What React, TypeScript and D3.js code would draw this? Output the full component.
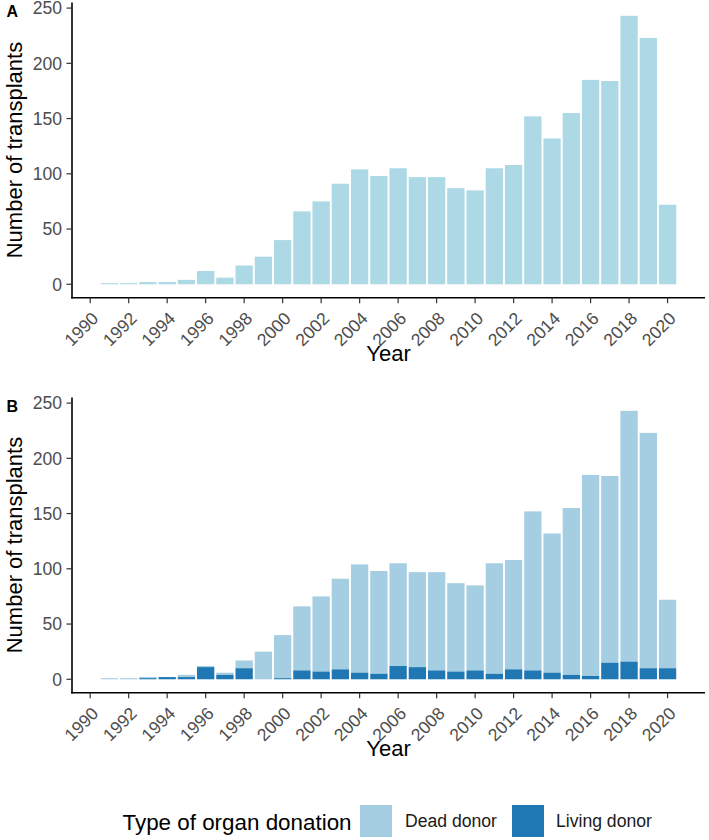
import React from "react";
import * as d3 from "d3";

const years = d3.range(1991, 2021);
const deadDonor = [1, 1, 1, 0, 2, 1, 2, 7, 25, 39, 58, 68, 82, 98, 93, 93, 86, 89, 80, 77, 100, 99, 144, 126, 151, 182, 169, 227, 213, 62];
const livingDonor = [0, 0, 1, 2, 2, 11, 4, 10, 0, 1, 8, 7, 9, 6, 5, 12, 11, 8, 7, 8, 5, 9, 8, 6, 4, 3, 15, 16, 10, 10];
const yTicks = [0, 50, 100, 150, 200, 250];
const xTicks = d3.range(1990, 2021, 2);
const legendLabels = ["Dead donor", "Living donor"];

const FONT = "'Liberation Sans', Arial, Helvetica, sans-serif";
const AXIS_X0 = 72;
const AXIS_X1 = 705;

const x = d3.scaleLinear().domain([1989.055, 2021.945]).range([AXIS_X0, AXIS_X1]);
const BAR_W = (x(1) - x(0)) * 0.9;

function Panel({ top, label, stacked }: { top: number; label: string; stacked: boolean }) {
  const y = d3.scaleLinear().domain([-12.15, 255.15]).range([top + 297.7, top + 2.4]);
  const bottom = top + 297.7;
  return (
    <g>
      {years.map((yr, i) => {
        const total = deadDonor[i] + livingDonor[i];
        const xl = x(yr) - BAR_W / 2;
        if (!stacked) {
          return <rect key={yr} x={xl} width={BAR_W} y={y(total)} height={y(0) - y(total)} fill="#ADD8E6" />;
        }
        return (
          <g key={yr}>
            <rect x={xl} width={BAR_W} y={y(total)} height={y(livingDonor[i]) - y(total)} fill="#A6CEE3" />
            <rect x={xl} width={BAR_W} y={y(livingDonor[i])} height={y(0) - y(livingDonor[i])} fill="#1F78B4" />
          </g>
        );
      })}
      <line x1={AXIS_X0} x2={AXIS_X0} y1={top + 2.4} y2={bottom + 0.8} stroke="#000" strokeWidth={1.6} />
      <line x1={AXIS_X0 - 0.8} x2={AXIS_X1} y1={bottom} y2={bottom} stroke="#000" strokeWidth={1.6} />
      {yTicks.map((t) => (
        <g key={t}>
          <line x1={AXIS_X0 - 5.5} x2={AXIS_X0} y1={y(t)} y2={y(t)} stroke="#333" strokeWidth={1.2} />
          <text x={AXIS_X0 - 10} y={y(t)} dy="0.36em" textAnchor="end" fontSize={17.6} fill="#4D4D4D" fontFamily={FONT}>
            {t}
          </text>
        </g>
      ))}
      {xTicks.map((t) => (
        <g key={t}>
          <line x1={x(t)} x2={x(t)} y1={bottom} y2={bottom + 5.5} stroke="#333" strokeWidth={1.2} />
          <text
            transform={`translate(${x(t) + 0.5},${bottom + 13}) rotate(-45)`}
            dy="0.71em"
            textAnchor="end"
            fontSize={17.6}
            fill="#4D4D4D"
            fontFamily={FONT}
          >
            {t}
          </text>
        </g>
      ))}
      <text
        transform={`translate(22,${(top + 2.4 + bottom) / 2}) rotate(-90)`}
        textAnchor="middle"
        fontSize={22}
        fill="#000"
        fontFamily={FONT}
      >
        Number of transplants
      </text>
      <text x={(AXIS_X0 + AXIS_X1) / 2} y={top + 361} textAnchor="middle" fontSize={22} fill="#000" fontFamily={FONT}>
        Year
      </text>
      <text x={6.5} y={top + 17} fontSize={16} fontWeight="bold" fill="#000" fontFamily={FONT}>
        {label}
      </text>
    </g>
  );
}

export default function App() {
  const legendColors = ["#A6CEE3", "#1F78B4"];
  const keyX = [360, 512];
  const labelX = [405, 556];
  return (
    <svg width={709} height={840} style={{ position: "absolute", left: 0, top: 0, background: "#fff" }}>
      <rect width={709} height={840} fill="#fff" />
      <Panel top={0} label="A" stacked={false} />
      <Panel top={395} label="B" stacked={true} />
      <g>
        <text x={122.5} y={830} fontSize={22.4} fill="#000" fontFamily={FONT}>
          Type of organ donation
        </text>
        {legendLabels.map((l, i) => (
          <g key={l}>
            <rect x={keyX[i]} y={805} width={32} height={32} fill={legendColors[i]} />
            <text x={labelX[i]} y={827.3} fontSize={17.6} fill="#1a1a1a" fontFamily={FONT}>
              {l}
            </text>
          </g>
        ))}
      </g>
    </svg>
  );
}
